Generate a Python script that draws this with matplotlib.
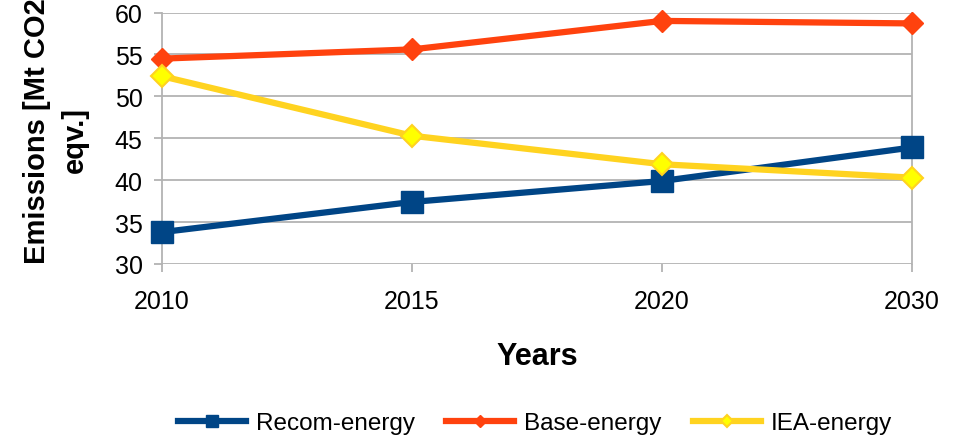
import matplotlib
matplotlib.use('Agg')
import matplotlib.pyplot as plt

plt.rcParams['font.family'] = ['Liberation Sans', 'DejaVu Sans']

years = ['2010', '2015', '2020', '2030']
recom_energy = [33.8, 37.4, 39.9, 43.9]
base_energy = [54.5, 55.6, 59.0, 58.7]
iea_energy = [52.4, 45.3, 41.9, 40.3]
y_ticks = [30, 35, 40, 45, 50, 55, 60]

grid_color = '#b3b3b3'

fig = plt.figure(figsize=(9.65, 4.39), dpi=100)
ax = fig.add_axes([0.1679, 0.3964, 0.7772, 0.5728])

x = list(range(len(years)))
ax.plot(x, recom_energy, color='#004586', linewidth=4.5, marker='s',
        markersize=16.5, label='Recom-energy', zorder=3, clip_on=False)
ax.plot(x, base_energy, color='#ff420e', linewidth=4.5, marker='D',
        markersize=11.5, label='Base-energy', zorder=3, clip_on=False)
ax.plot(x, iea_energy, color='#ffd320', linewidth=4.5, marker='D',
        markersize=11.5, markerfacecolor='#ffff00',
        markeredgecolor='#ffd320', markeredgewidth=1.5,
        label='IEA-energy', zorder=3, clip_on=False)

ax.set_xlim(0, len(years) - 1)
ax.set_ylim(30, 60)
ax.set_xticks(x)
ax.set_xticklabels(years)
ax.set_yticks(y_ticks)

ax.yaxis.grid(True, color=grid_color, linewidth=1.3)
ax.set_axisbelow(True)
for side in ['left', 'right']:
    ax.spines[side].set_color(grid_color)
    ax.spines[side].set_linewidth(1.3)
for side in ['top', 'bottom']:
    ax.spines[side].set_visible(False)

ax.tick_params(axis='both', colors=grid_color, labelcolor='black',
               labelsize=18, width=1.3, length=6)
ax.tick_params(axis='x', pad=12)
ax.tick_params(axis='y', pad=8)

ax.set_xlabel('Years', fontsize=22, fontweight='bold', labelpad=20)

# y label drawn as two rotated lines
fig.text(45 / 965, 1 - 131.5 / 439, 'Emissions [Mt CO2', rotation=90,
         rotation_mode='anchor', ha='center', va='baseline',
         fontsize=21, fontweight='bold')
fig.text(83 / 965, 1 - 140 / 439, 'eqv.]', rotation=90,
         rotation_mode='anchor', ha='center', va='baseline',
         fontsize=21, fontweight='bold')

ax.legend(loc='center', bbox_to_anchor=(535 / 965, 1 - 424 / 439),
          bbox_transform=fig.transFigure, ncol=3, frameon=False,
          fontsize=17.5, handlelength=2.8, handletextpad=0.4,
          columnspacing=1.3, markerscale=0.5)

fig.savefig('out.png', dpi=100)
